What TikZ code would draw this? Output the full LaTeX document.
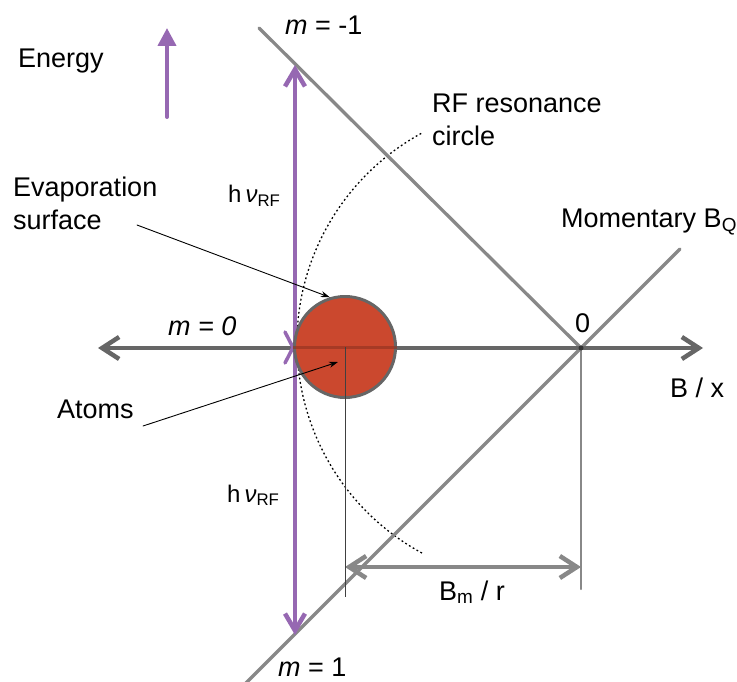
\documentclass[tikz,border=0pt]{standalone}
\usepackage{fontspec}
\setmainfont{Liberation Sans}
\usetikzlibrary{arrows.meta}

\definecolor{axisgray}{RGB}{102,102,102}
\definecolor{linegray}{RGB}{136,136,136}
\definecolor{rfpurple}{RGB}{150,104,178}
\definecolor{atomred}{RGB}{203,72,46}

\begin{document}
\begin{tikzpicture}[
	x=1pt, y=-1pt,
	line cap=round,
	line join=round,
	txt/.style={anchor=base west, inner sep=0pt, font=\fontsize{27}{33}\selectfont},
	smalltxt/.style={anchor=base west, inner sep=0pt, font=\fontsize{24}{28}\selectfont},
	axis/.style={draw=axisgray, line width=4.5pt},
	level/.style={draw=linegray, line width=3.3pt},
	rf/.style={draw=rfpurple, line width=4.5pt},
	barbs/.style={{Straight Barb[length=17pt,width=22pt]}-{Straight Barb[length=17pt,width=22pt]}},
	pointer/.style={-{Stealth[length=9pt,width=6pt]}, line width=0.9pt}
	]
	\useasboundingbox (0,0) rectangle (737,682);
	
	% Key points
	\coordinate (zero) at (581,348);
	\coordinate (axL) at (98,348);
	\coordinate (axR) at (703,348);
	\coordinate (mmtop) at (259,28);
	\coordinate (mptop) at (680,249);
	\coordinate (mpbot) at (244,685);
	\coordinate (rftop) at (295,65);
	\coordinate (rfbot) at (295,635);
	\coordinate (ebase) at (167,117);
	\coordinate (etip) at (167,28);
	\coordinate (bmL) at (345,567);
	\coordinate (bmR) at (581,567);
	\coordinate (dropL) at (345,597);
	\coordinate (dropR) at (581,589);
	
	% RF resonance circle (dotted arc)
	\draw[line width=1.3pt, line cap=butt, dash pattern=on 1.8pt off 2.6pt]
	(536,343) ++(118.5:239) arc[start angle=118.5, end angle=241.5, radius=239];
	
	% Levels m = -1 and m = 1
	\draw[level] (mmtop) -- (zero);
	\draw[level] (mpbot) -- (mptop);
	
	% Drop lines and B_m / r
	\draw[draw=linegray, line width=2.4pt] (zero) -- (dropR);
	\draw[axis, draw=linegray, barbs] (bmL) -- (bmR);
	
	% Level m = 0
	\draw[axis, barbs] (axL) -- (axR);
	\fill[black!80] (zero) circle (2.5);
	
	% RF photon energy
	\draw[rf, {Straight Barb[length=17pt,width=20pt]}-{Straight Barb[length=17pt,width=20pt]}] (rftop) -- (rfbot);
	\draw[rf, line width=3.5pt] (285,332) -- (301,363) (285,363) -- (301,332);
	\draw[rf, line width=4pt, -{Triangle[length=18pt,width=18pt]}] (ebase) -- (etip);
	
	% Atom cloud
	\node[circle, draw=axisgray, line width=3pt, fill=atomred, minimum size=101pt, inner sep=0pt] (cloud) at (345,347) {};
	\draw[atomred!70!black, line width=3pt, opacity=0.6, line cap=butt] (cloud.west) -- (cloud.east);
	\draw[black!75, line width=0.8pt, line cap=butt] (cloud.center) -- (dropL);
	
	% Labels
	\node[txt] (energy) at (18,68) {Energy};
	\node[txt] (mminus) at (285,35) {\textit{m} = -1};
	\node[txt, align=left, anchor=north west] (rfcircle) at (432,93.4) {RF resonance\\circle};
	\node[txt] (moment) at (561,227) {Momentary B\textsubscript{Q}};
	\node[txt, align=left, anchor=north west] (evap) at (13,176.4) {Evaporation\\surface};
	\node[smalltxt] (hnuup) at (228,203) {h\,\textit{ν}\textsubscript{RF}};
	\node[smalltxt] (hnudown) at (227,502) {h\,\textit{ν}\textsubscript{RF}};
	\node[txt] (mzero) at (168,335) {\textit{m = 0}};
	\node[txt] (zlabel) at (575,332) {0};
	\node[txt] (bx) at (670,397) {B / x};
	\node[txt] (atoms) at (57,418) {Atoms};
	\node[txt] (bmr) at (439,600) {B\textsubscript{m} / r};
	\node[txt] (mplus) at (278,676) {\textit{m} = 1};
	
	% Pointers
	\coordinate (evapfoot) at (137,225);
	\coordinate (atomsfoot) at (143,426);
	\coordinate (atomsin) at (338,362);
	\draw[pointer] (evapfoot) -- (cloud.107);
	\draw[pointer] (atomsfoot) -- (atomsin);
\end{tikzpicture}
\end{document}
